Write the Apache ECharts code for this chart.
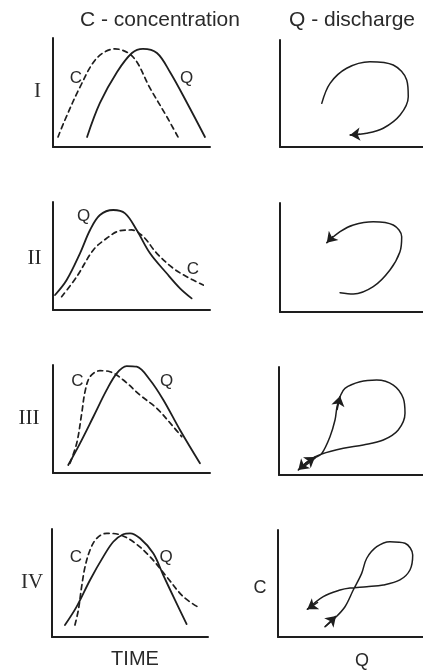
<!DOCTYPE html>
<html>
<head>
<meta charset="utf-8">
<script src="https://cdn.jsdelivr.net/npm/echarts@6/dist/echarts.min.js"></script>
<style>
  html, body { margin: 0; padding: 0; background: #ffffff; }
  #chart { width: 423px; height: 670px; }
</style>
</head>
<body>
<div id="chart"></div>
<script>
// ---- text ----
const rowLabels = ['I', 'II', 'III', 'IV'];
const hydroTitle = 'C - concentration';
const loopTitle = 'Q - discharge';
const timeLabel = 'TIME';
const cLabel = 'C';
const qLabel = 'Q';

// ---- hydrographs: [time, relative magnitude], both on 0-100 ----
const dischargeI = [[21.7,9.2],[29.9,40.4],[40.8,68.8],[50.3,86.2],[57.3,90],[66.2,86.2],[74.5,68.8],[85.4,40.4],[96.8,9.2]];
const concentrationI = [[3.2,9.2],[7.6,24.8],[17.2,55],[28,81.7],[39.5,90],[51,82.6],[61.8,54],[72.6,27.5],[79.6,9.2]];

const dischargeII = [[1.3,13.9],[8.7,27.8],[17.2,52.5],[23.6,74.1],[29.9,88],[38.4,92.6],[45.9,89.5],[53.3,74.1],[61.8,52.5],[72.4,34],[80.9,20.1],[88.3,10.8]];
const concentrationII = [[5.5,12.3],[15.1,30.8],[25.7,55.6],[34.2,66.4],[42.7,73.4],[50.1,74.1],[57.5,67.9],[66.1,52.5],[76.6,38.6],[85.2,30.8],[95.7,23.1]];

const dischargeIII = [[9.7,7.4],[17.2,27.5],[25.7,52.1],[34.2,76.9],[40.6,92.3],[46.9,99],[53.3,98.4],[61.8,86.1],[70.3,67.6],[80.9,39.8],[93.6,9]];
const concentrationIII = [[10.8,9],[15.1,27.5],[18.3,55.3],[20.4,75.3],[23.6,89.2],[29.9,94.7],[36.3,93.8],[44.8,86.1],[55.4,72.2],[66.1,59.9],[76.6,42.9],[82,33.6]];

const dischargeIV = [[8.3,11.1],[15.8,28.1],[24.4,52.8],[32.9,74.4],[39.3,88.2],[45.7,95.1],[50,96],[56.4,91.4],[64.9,77.5],[71.3,57.4],[78.8,34.3],[86.3,12]];
const concentrationIV = [[14.7,11.1],[16.9,25],[19,46.6],[21.2,65.1],[24.4,80.6],[28.7,91.4],[35.1,96],[42.5,95.1],[52.1,88.2],[62.8,74.4],[73.5,55.8],[84.2,37.3],[94.9,26.6]];

// ---- C-Q paths: [Q, C] on 0-100, in time order ----
const loopI = [[29.2,40.8],[35,59.5],[46.6,73.6],[62.9,79.7],[79.2,76.6],[88.6,62.6],[89.7,47],[84,29.9],[72.2,17.5],[60.6,12.8],[49,11.2]];
const loopII = [[42,17.7],[51.3,16.5],[65.2,23.2],[76.9,38.5],[83.9,55.3],[85.1,69.1],[79.2,79.8],[65.2,82.8],[51.3,79.8],[42,73.7],[32.7,63.6]];
const loopIII = [[15.8,6.2],[25,15.7],[29.7,19.9],[35.4,35.5],[38.9,50.9],[40.3,63.2],[42.4,72.5],[45.8,80.3],[56.3,86.4],[67.8,88],[79.4,83.3],[86.3,71],[87.5,57.1],[82.8,41.7],[72.4,32.4],[58.5,27.8],[44.7,24.7],[29.7,19.4],[21.5,13.9],[13.4,4.6]];
const loopIV = [[32.4,9.6],[39.3,17.8],[46.2,28.3],[51.9,43.9],[57.7,59.5],[61.2,73.6],[68.1,84.4],[77.2,89.1],[87.6,87.6],[92.9,76.6],[91,62.6],[84.1,53.3],[72.6,48.6],[61.2,47],[49.7,45.8],[42.8,43.9],[31.2,37.7],[20.2,25.9]];

// arrowheads along each path: [tail, tip]
const arrowsI = [[[56,12],[49,11.2]]];
const arrowsII = [[[37,69.5],[32.7,63.6]]];
const arrowsIII = [[[18.1,10.2],[25,16.7]], [[40.3,60.2],[42.4,73.1]], [[19.4,12],[13.4,4.6]]];
const arrowsIV = [[[32.4,9.6],[40,19.6]], [[27.6,32.7],[20.2,25.9]]];

// ---- layout ----
const INK = '#1e1e1e';
const TEXT = '#2a2a2a';
const SANS = 'Liberation Sans, Arial, Helvetica, sans-serif';
const SERIF = 'Liberation Serif, Times New Roman, serif';

const hydro = [
  { q: dischargeI, c: concentrationI },
  { q: dischargeII, c: concentrationII },
  { q: dischargeIII, c: concentrationIII },
  { q: dischargeIV, c: concentrationIV }
];
const loops = [
  { path: loopI, arrows: arrowsI },
  { path: loopII, arrows: arrowsII },
  { path: loopIII, arrows: arrowsIII },
  { path: loopIV, arrows: arrowsIV }
];
const leftBoxes = [[53, 38, 157, 109], [53, 202, 157, 108], [53, 365, 157, 108], [52, 529, 156, 108]];
const rightBoxes = [[280, 40, 143, 107], [280, 203, 143, 109], [279, 367, 144, 108], [278, 530, 145, 107]];

const grid = [], xAxis = [], yAxis = [], series = [];

function axisOf(i) {
  return {
    type: 'value', gridIndex: i, min: 0, max: 100,
    axisLine: { show: true, onZero: false, lineStyle: { color: INK, width: 2 } },
    axisTick: { show: false }, axisLabel: { show: false }, splitLine: { show: false }
  };
}
function addGrid(box) {
  const i = grid.length;
  grid.push({ left: box[0], top: box[1], width: box[2], height: box[3], containLabel: false });
  xAxis.push(axisOf(i));
  yAxis.push(axisOf(i));
  return i;
}
function curve(i, data, width, dash) {
  return {
    type: 'line', xAxisIndex: i, yAxisIndex: i, data: data,
    smooth: 0.35, smoothConstraint: false, symbol: 'none', silent: true, clip: false, animation: false,
    lineStyle: { color: INK, width: width, type: dash || 'solid', cap: 'round', join: 'round' }
  };
}

hydro.forEach((h, r) => {
  const i = addGrid(leftBoxes[r]);
  series.push(curve(i, h.q, 1.8));
  series.push(curve(i, h.c, 1.7, [5, 4]));
});
loops.forEach((l, r) => {
  const i = addGrid(rightBoxes[r]);
  series.push(curve(i, l.path, 1.5));
  series.push({
    type: 'lines', coordinateSystem: 'cartesian2d', xAxisIndex: i, yAxisIndex: i,
    symbol: ['none', 'arrow'], symbolSize: 10, silent: true, animation: false,
    lineStyle: { color: INK, width: 1.5, opacity: 1, curveness: 0 },
    data: l.arrows.map(a => ({ coords: a }))
  });
});

function label(text, x, y, size, family) {
  return {
    type: 'text', x: x, y: y, silent: true,
    style: {
      text: text, fill: TEXT, font: size + 'px ' + family,
      align: 'center', verticalAlign: 'middle', textAlign: 'center', textVerticalAlign: 'middle'
    }
  };
}

const graphic = [
  label(hydroTitle, 160, 20, 21, SANS),
  label(loopTitle, 352, 20, 21, SANS),
  label(rowLabels[0], 37.5, 91, 21, SERIF),
  label(rowLabels[1], 34.5, 258, 21, SERIF),
  label(rowLabels[2], 29, 418, 21, SERIF),
  label(rowLabels[3], 32, 582, 21, SERIF),
  label(cLabel, 76, 78, 17, SANS), label(qLabel, 186.5, 78, 17, SANS),
  label(qLabel, 83.5, 216, 17, SANS), label(cLabel, 193, 269, 17, SANS),
  label(cLabel, 77.5, 381, 17, SANS), label(qLabel, 166.5, 381, 17, SANS),
  label(cLabel, 76, 557, 17, SANS), label(qLabel, 166, 557, 17, SANS),
  label(timeLabel, 135, 659, 20, SANS),
  label(cLabel, 260, 588, 18, SANS),
  label(qLabel, 362, 661, 18, SANS)
];

const chart = echarts.init(document.getElementById('chart'), null, { renderer: 'canvas' });
chart.setOption({
  backgroundColor: '#ffffff',
  animation: false,
  grid: grid, xAxis: xAxis, yAxis: yAxis, series: series, graphic: graphic
});
</script>
</body>
</html>
